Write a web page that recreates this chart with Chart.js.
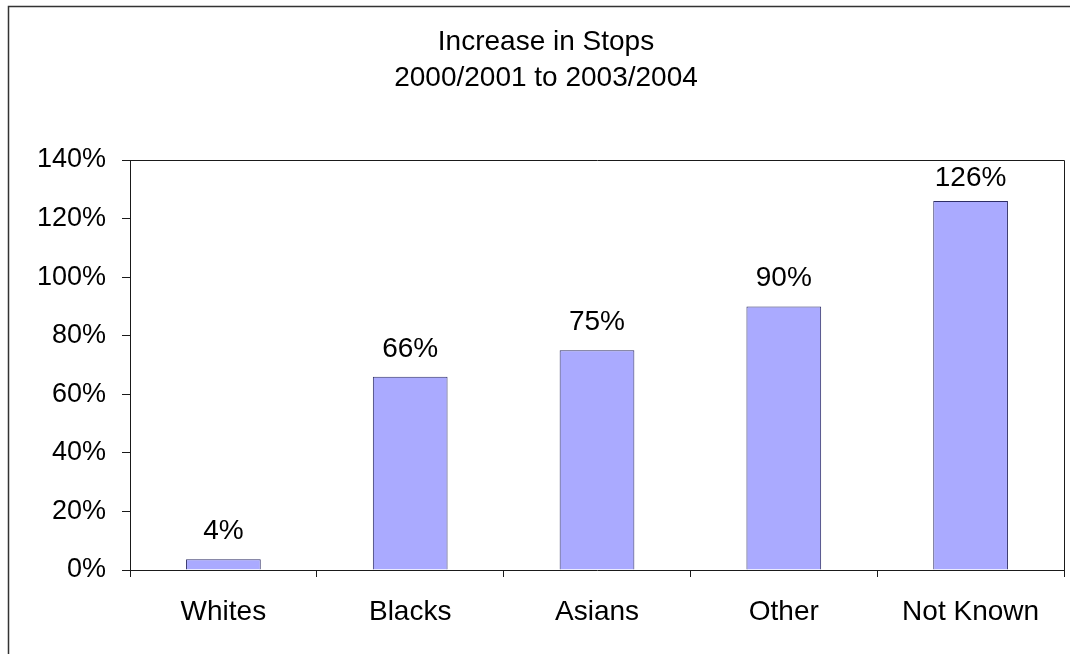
<!DOCTYPE html>
<html><head><meta charset="utf-8">
<script src="https://cdn.jsdelivr.net/npm/chart.js@4"></script>
<style>html,body{margin:0;padding:0;background:#fff;overflow:hidden}#wrap{width:1070px;height:654px;position:relative}</style>
</head><body><div id="wrap"><canvas id="c" width="1070" height="654"></canvas></div>
<script>
const titleLines = ['Increase in Stops', '2000/2001 to 2003/2004'];
const categories = ['Whites', 'Blacks', 'Asians', 'Other', 'Not Known'];
const values = [3.7, 66, 75, 90, 126];
const dataLabels = ['4%', '66%', '75%', '90%', '126%'];
const yTicks = [0, 20, 40, 60, 80, 100, 120, 140];

const FONT = '"Liberation Sans", Arial, sans-serif';
const FS = 27;
const FS_BIG = 28;
const LINE = '#1a1a1a';

const decor = {
  id: 'decor',
  beforeDraw(chart) {
    const ctx = chart.ctx;
    ctx.save();
    ctx.fillStyle = '#fff';
    ctx.fillRect(0, 0, chart.width, chart.height);
    // outer frame (clipped at right/bottom)
    ctx.strokeStyle = '#333';
    ctx.lineWidth = 1.5;
    ctx.beginPath();
    ctx.moveTo(8.5, chart.height + 2);
    ctx.lineTo(8.5, 6.5);
    ctx.lineTo(chart.width + 2, 6.5);
    ctx.stroke();
    // title
    ctx.fillStyle = '#000';
    ctx.font = FS_BIG + 'px ' + FONT;
    ctx.textAlign = 'center';
    ctx.textBaseline = 'alphabetic';
    ctx.fillText(titleLines[0], 546, 50);
    ctx.fillText(titleLines[1], 546, 86);
    ctx.restore();
  },
  afterDatasetsDraw(chart) {
    const ctx = chart.ctx;
    const a = chart.chartArea;
    ctx.save();
    ctx.strokeStyle = LINE;
    ctx.lineWidth = 1;
    ctx.beginPath();
    ctx.moveTo(Math.round(a.left) + 0.5, Math.round(a.top) + 0.5);
    ctx.lineTo(Math.round(a.right) + 0.5, Math.round(a.top) + 0.5);
    ctx.lineTo(Math.round(a.right) + 0.5, Math.round(a.bottom) + 0.5);
    ctx.stroke();
    // data labels
    ctx.fillStyle = '#000';
    ctx.font = FS_BIG + 'px ' + FONT;
    ctx.textAlign = 'center';
    ctx.textBaseline = 'alphabetic';
    const meta = chart.getDatasetMeta(0);
    meta.data.forEach((bar, i) => {
      let y = bar.y - 20;
      if (y - 20 < a.top + 6) y = a.top + 6 + 20;
      ctx.fillText(dataLabels[i], bar.x, y);
    });
    ctx.restore();
  }
};

new Chart(document.getElementById('c'), {
  type: 'bar',
  data: {
    labels: categories,
    datasets: [{
      data: values,
      backgroundColor: '#aaaaff',
      borderColor: '#2e2e66',
      borderWidth: 1,
      barPercentage: 0.4,
      categoryPercentage: 1.0
    }]
  },
  options: {
    responsive: false,
    devicePixelRatio: 1,
    animation: false,
    layout: { padding: { left: 0, right: 6, top: 160, bottom: 0 } },
    plugins: { legend: { display: false }, title: { display: false }, tooltip: { enabled: false } },
    scales: {
      x: {
        afterFit: s => { s.height = 84; },
        grid: { display: true, drawOnChartArea: false, drawTicks: true, tickLength: 7, color: LINE, offset: true },
        border: { display: true, color: LINE, width: 1 },
        ticks: { color: '#000', font: { family: FONT, size: FS_BIG }, padding: 18, maxRotation: 0 }
      },
      y: {
        min: 0, max: 140,
        afterFit: s => { s.width = 130; },
        afterBuildTicks: s => { s.ticks = yTicks.map(v => ({ value: v })); },
        grid: { display: true, drawOnChartArea: false, drawTicks: true, tickLength: 8, color: LINE },
        border: { display: true, color: LINE, width: 1 },
        ticks: { color: '#000', font: { family: FONT, size: FS }, padding: 16, callback: v => v + '%' }
      }
    }
  },
  plugins: [decor]
});
</script>
</body></html>
